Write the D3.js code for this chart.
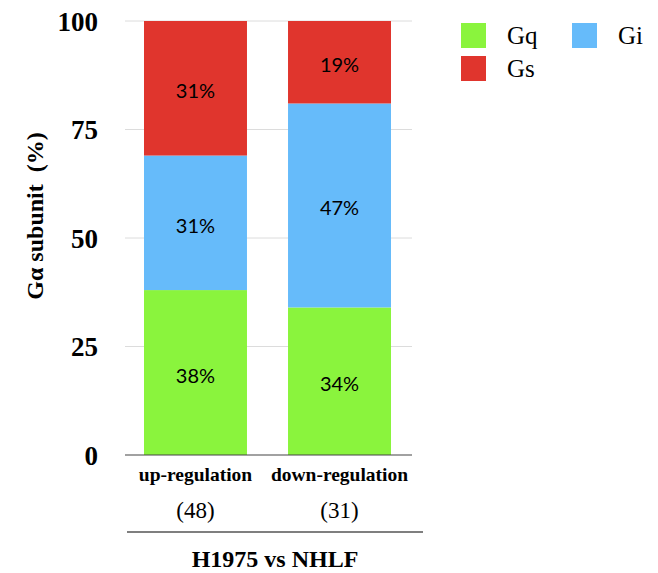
<!DOCTYPE html>
<html><head><meta charset="utf-8">
<script src="https://cdn.jsdelivr.net/npm/d3@7"></script>
<style>body{margin:0;background:#fff;}</style>
</head><body>
<svg id="c" width="658" height="573"></svg>
<script>
const categories = ["up-regulation", "down-regulation"];
const counts = ["(48)", "(31)"];
const seriesNames = ["Gq", "Gi", "Gs"];
const gq = [38, 34];
const gi = [31, 47];
const gs = [31, 19];
const yTicks = [0, 25, 50, 75, 100];
const groupLabel = "H1975 vs NHLF";
const yTitle = "Gα subunit  (%)";
const colors = {Gq: "#8AF43D", Gi: "#66BBFA", Gs: "#E0352D"};
const serif = "Liberation Serif, Times New Roman, serif";

const svg = d3.select("#c");
const y = d3.scaleLinear().domain([0, 100]).range([455, 21]);
const x = d3.scaleBand().domain(categories).range([144, 391]).paddingInner(0.285).paddingOuter(0);

const rows = categories.map((c, i) => ({cat: c, Gq: gq[i], Gi: gi[i], Gs: gs[i]}));
const stack = d3.stack().keys(seriesNames)(rows);

// gridlines
svg.append("g").selectAll("line").data(yTicks.filter(t => t > 0)).join("line")
  .attr("x1", 125).attr("x2", 412).attr("y1", d => y(d)).attr("y2", d => y(d))
  .attr("stroke", "#dcdcdc").attr("stroke-width", 1);

// y axis labels
const yAxis = d3.axisLeft(y).tickValues(yTicks).tickSize(0).tickPadding(0);
const ya = svg.append("g").attr("transform", "translate(98,0)").call(yAxis);
ya.select(".domain").remove();
ya.selectAll("text").attr("font-family", serif)
  .attr("font-weight", "bold").attr("font-size", 27).attr("fill", "#000").attr("dy", "0.35em");

// bars
const layers = svg.append("g").selectAll("g").data(stack).join("g").attr("fill", d => colors[d.key]);
layers.selectAll("rect").data(d => d).join("rect")
  .attr("x", d => x(d.data.cat)).attr("width", x.bandwidth())
  .attr("y", d => y(d[1])).attr("height", d => y(d[0]) - y(d[1]));

// value labels
layers.selectAll("text").data(d => d).join("text")
  .attr("x", d => x(d.data.cat) + x.bandwidth() / 2)
  .attr("y", d => (y(d[0]) + y(d[1])) / 2 + 10)
  .attr("text-anchor", "middle").attr("fill", "#000")
  .attr("font-family", "Lato, Open Sans, sans-serif").attr("font-size", 20)
  .text(d => Math.round(d[1] - d[0]) + "%");

// baseline
svg.append("line").attr("x1", 125).attr("x2", 412).attr("y1", y(0)).attr("y2", y(0))
  .attr("stroke", "#444").attr("stroke-width", 1.2);

// category labels
const xAxis = d3.axisBottom(x).tickSize(0).tickPadding(0);
const xa = svg.append("g").attr("transform", "translate(0,481)").call(xAxis);
xa.select(".domain").remove();
xa.selectAll("text").attr("dy", 0).attr("font-family", serif)
  .attr("font-weight", "bold").attr("font-size", 19.5).attr("fill", "#000");

svg.append("g").selectAll("text").data(categories).join("text")
  .attr("x", d => x(d) + x.bandwidth() / 2).attr("y", 518)
  .attr("text-anchor", "middle").attr("font-family", serif)
  .attr("font-size", 23).text((d, i) => counts[i]);

svg.append("line").attr("x1", 127).attr("x2", 423).attr("y1", 532).attr("y2", 532)
  .attr("stroke", "#000").attr("stroke-width", 1.2);

svg.append("text").attr("x", 275).attr("y", 567).attr("text-anchor", "middle")
  .attr("font-family", serif).attr("font-weight", "bold")
  .attr("font-size", 24).text(groupLabel);

// y title
svg.append("text").attr("transform", "translate(43,216) rotate(-90)").attr("text-anchor", "middle")
  .style("white-space", "pre")
  .attr("font-family", serif).attr("font-weight", "bold")
  .attr("font-size", 24).text(yTitle);

// legend
const legendPos = [{x: 461, y: 23}, {x: 572, y: 23}, {x: 461, y: 56}];
const lg = svg.append("g").selectAll("g").data(seriesNames).join("g")
  .attr("transform", (d, i) => `translate(${legendPos[i].x},${legendPos[i].y})`);
lg.append("rect").attr("width", 25).attr("height", 25).attr("fill", d => colors[d]);
lg.append("text").attr("x", 46).attr("y", 21).attr("font-family", serif)
  .attr("font-size", 25).text(d => d);
</script>
</body></html>
